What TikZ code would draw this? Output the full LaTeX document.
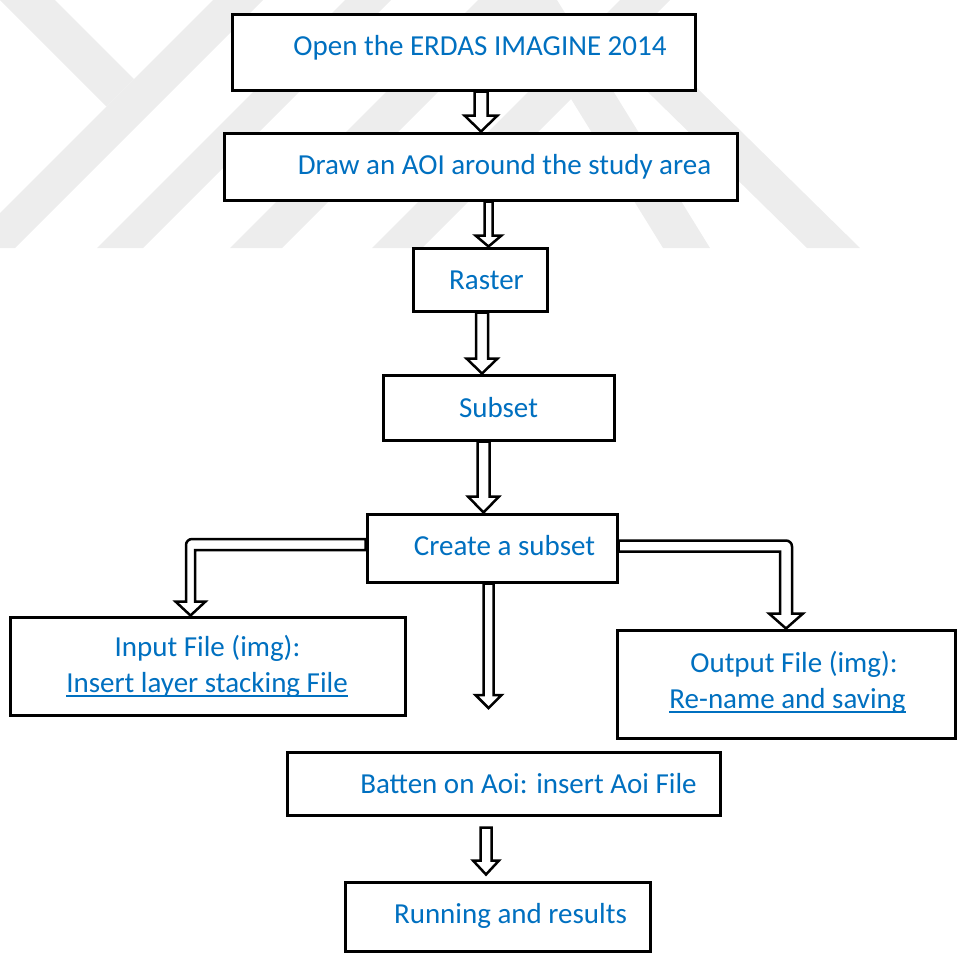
\documentclass[tikz,border=0pt]{standalone}
\usepackage{fontspec}
\setmainfont{Carlito}
\usetikzlibrary{calc}
\definecolor{txtblue}{RGB}{0,112,192}
\definecolor{wmgray}{RGB}{237,237,237}
\newsavebox{\ulbox}
\newcommand{\myul}[1]{\sbox{\ulbox}{#1}\rlap{\usebox{\ulbox}}\rule[-4.5pt]{\wd\ulbox}{1.4pt}}
\tikzset{
  box/.style={draw=black, line width=3pt, fill=white, rectangle, inner sep=0pt},
  txt/.style={text=txtblue, font=\fontsize{29}{35}\selectfont, inner sep=0pt, anchor=base},
  aw/.store in=\arrW, ah/.store in=\arrH, al/.store in=\arrL, ax/.store in=\arrX,
  aw=6pt, ah=15pt, al=15pt, ax=0pt,
  blk/.style={draw=black, line width=2.5pt, fill=white,
    to path={let \p1=(\tikztostart), \p2=(\tikztotarget) in
      (\x1+\arrX-\arrW,\y1) -- (\x1+\arrX-\arrW,\y2+\arrL) -- (\x1+\arrX-\arrH,\y2+\arrL)
      -- (\x1+\arrX,\y2) -- (\x1+\arrX+\arrH,\y2+\arrL) -- (\x1+\arrX+\arrW,\y2+\arrL)
      -- (\x1+\arrX+\arrW,\y1) -- cycle}},
  elb/.style={draw=black, line width=2.5pt, fill=white},
  wm/.style={fill=wmgray, draw=none}
}
\begin{document}
\begin{tikzpicture}[x=1pt,y=-1pt]
\useasboundingbox (0,0) rectangle (957,954);
% watermark
\begin{scope}
\clip (0,0) rectangle (957,248);
\fill[wm] (213,0) -- (263,0) -- (15,248) -- (-35,248) -- cycle;
\fill[wm] (345,0) -- (391,0) -- (143,248) -- (97,248) -- cycle;
\fill[wm] (478,0) -- (530,0) -- (282,248) -- (230,248) -- cycle;
\fill[wm] (620,0) -- (670,0) -- (422,248) -- (372,248) -- cycle;
\fill[wm] (0,0) -- (55,0) -- (134,79) -- (106.5,106.5) -- (0,0) -- cycle;
\fill[wm] (510,0) -- (557,0) -- (710,248) -- (663,248) -- cycle;
\fill[wm] (612.6,57.4) -- (639,31) -- (860,248) -- (807,248) -- cycle;
\end{scope}
% boxes
\node[box, minimum width=463pt, minimum height=76pt] (open) at (463.5,52) {};
\node[box, minimum width=513pt, minimum height=67pt] (draw) at (480.5,166.5) {};
\node[box, minimum width=134pt, minimum height=63pt] (raster) at (480,279.5) {};
\node[box, minimum width=231pt, minimum height=65pt] (subset) at (498.5,407.5) {};
\node[box, minimum width=250pt, minimum height=68pt] (create) at (492,548) {};
\node[box, minimum width=395pt, minimum height=98pt] (input) at (207.5,666) {};
\node[box, minimum width=338pt, minimum height=108pt] (output) at (786,684) {};
\node[box, minimum width=433pt, minimum height=63pt] (batten) at (503.5,783.5) {};
\node[box, minimum width=305pt, minimum height=69pt] (running) at (497.5,916.5) {};
% texts
\node[txt] (topen) at (480,55) {Open the ERDAS IMAGINE 2014};
\node[txt] (tdraw) at (504.5,174) {Draw an AOI around the study area};
\node[txt] (traster) at (486.5,289) {Raster};
\node[txt] (tsubset) at (498.5,417) {Subset};
\node[txt] (tcreate) at (504.5,555) {Create a subset};
\node[txt] (tinput1) at (207.5,656) {Input File (img):};
\node[txt] (tinput2) at (207,692) {\myul{Insert layer stacking File}};
\node[txt] (toutput1) at (794,672) {Output File (img):};
\node[txt] (toutput2) at (787.5,708) {\myul{Re-name and saving}};
\node[txt] (tbatten) at (528.5,793) {Batten on Aoi: insert Aoi File};
\node[txt] (trunning) at (510.5,923) {Running and results};
% vertical block arrows
\draw[blk, ax=17.5pt, aw=6.5pt, ah=16.5pt, al=16pt] (open.south) to (draw.north);
\draw[blk, ax=8pt, aw=4pt, ah=13pt, al=11pt] (draw.south) to (raster.north);
\draw[blk, ax=2pt, aw=6pt, ah=15.5pt, al=15pt] (raster.south) to (subset.north);
\draw[blk, ax=-15pt, aw=6pt, ah=15.5pt, al=16pt] (subset.south) to (create.north);
\coordinate (cend) at (488.5,708);
\draw[blk, ax=-3.5pt, aw=5pt, ah=13pt, al=13pt] (create.south) to (cend);
\coordinate (bstart) at ($(batten.south)+(-17.5,11)$);
\coordinate (bend) at ($(running.north)+(-11.5,-6)$);
\draw[blk, aw=5.5pt, ah=13pt, al=14pt] (bstart) to (bend);
% elbow arrows
\draw[elb] let \p1=($(create.west)+(0,-3.5)$), \p2=($(input.north)+(-17,0)$) in
  (\x1,\y1+5.5pt) [rounded corners=6pt] -- (\x2-4.5pt,\y1+5.5pt) [sharp corners]
  -- (\x2-4.5pt,\y2+14pt) -- (\x2-15pt,\y2+14pt) -- (\x2,\y2) -- (\x2+15pt,\y2+14pt)
  -- (\x2+4.5pt,\y2+14pt) -- (\x2+4.5pt,\y1-5.5pt) -- (\x1,\y1-5.5pt) -- cycle;
\draw[elb] let \p1=($(create.east)+(0,-2)$), \p2=(output.north) in
  (\x1,\y1+5.5pt) [rounded corners=6pt] -- (\x2+6pt,\y1+5.5pt) [sharp corners]
  -- (\x2+6pt,\y2+15pt) -- (\x2+17pt,\y2+15pt) -- (\x2,\y2) -- (\x2-17pt,\y2+15pt)
  -- (\x2-6pt,\y2+15pt) -- (\x2-6pt,\y1-5.5pt) -- (\x1,\y1-5.5pt) -- cycle;
\end{tikzpicture}
\end{document}
